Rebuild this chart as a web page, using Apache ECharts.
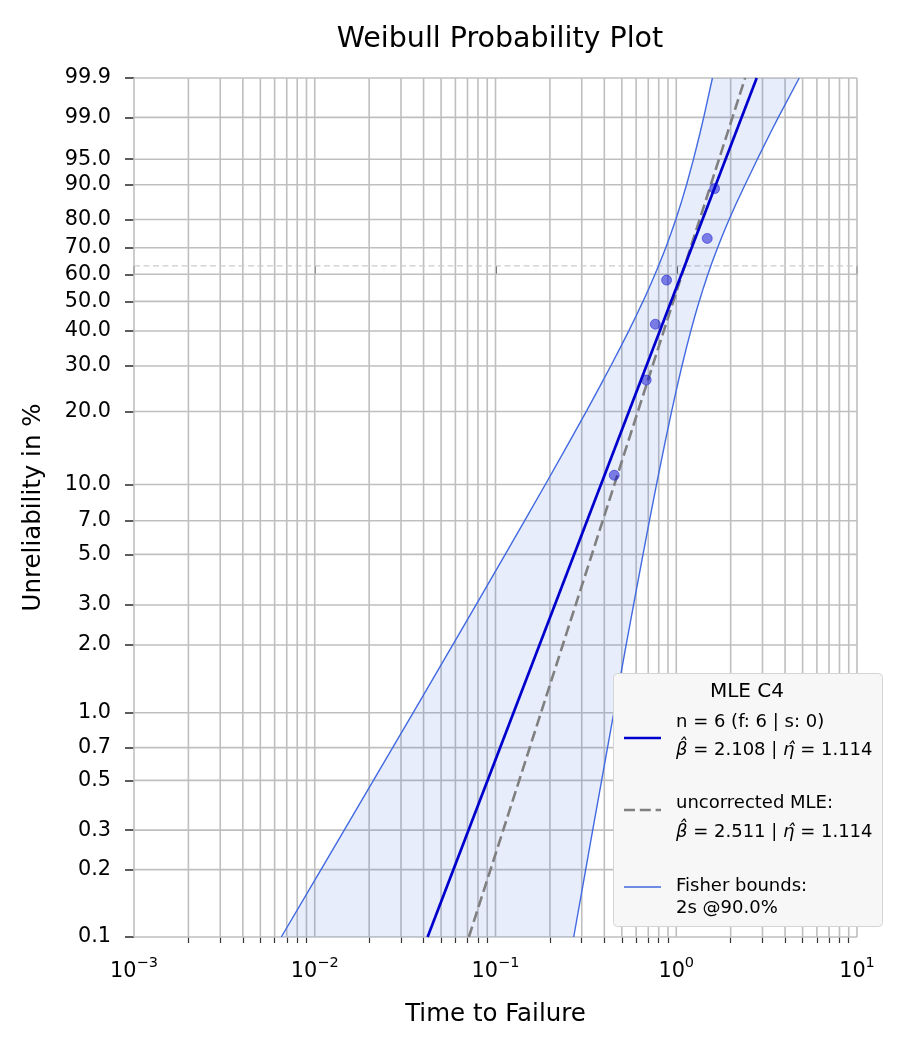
<!DOCTYPE html>
<html>
<head>
<meta charset="utf-8">
<title>Weibull Probability Plot</title>
<script src="https://cdn.jsdelivr.net/npm/echarts@6/dist/echarts.min.js"></script>
<style>
  html, body { margin: 0; padding: 0; background: #fff; }
  #main { width: 900px; height: 1050px; }
</style>
</head>
<body>
<div id="main"></div>
<script>
// failures (time) and their median ranks (%)
var failureTimes = [0.454, 0.682, 0.766, 0.884, 1.484, 1.63];
var medianRanks = [10.94, 26.56, 42.19, 57.81, 73.44, 89.06];

// fitted lines, read at the bottom and top edge of the plot
var fitPercents = [0.1, 99.9];
var fitTimes = [0.0421, 2.787];        // MLE C4, beta 2.108
var uncorrectedTimes = [0.0712, 2.405]; // uncorrected MLE, beta 2.511

// Fisher bounds (time at given unreliability)
var boundPercents = [0.1, 0.2, 0.3, 0.5, 0.7, 1, 2, 3, 5, 7, 10, 15, 20, 25, 30, 35, 40, 45, 50,
                     55, 60, 65, 70, 75, 80, 85, 90, 95, 98, 99, 99.9];
var upperBoundTimes = [0.00653, 0.01083, 0.01456, 0.02112, 0.02698, 0.0350, 0.0580, 0.0779, 0.1132, 0.1450,
                       0.1887, 0.2553, 0.3175, 0.3767, 0.4340, 0.4902, 0.5454, 0.6002, 0.6544,
                       0.7087, 0.7630, 0.8181, 0.8746, 0.9326, 0.9942, 1.0614, 1.1401, 1.2459, 1.3530, 1.4188, 1.5857];
var lowerBoundTimes = [0.2708, 0.3155, 0.3449, 0.3866, 0.4166, 0.4513, 0.5283, 0.5801, 0.6549, 0.7108,
                       0.7778, 0.8670, 0.9421, 1.0102, 1.0750, 1.1386, 1.2029, 1.2691, 1.3393,
                       1.4147, 1.4969, 1.5883, 1.6928, 1.8143, 1.9608, 2.1465, 2.4016, 2.8100, 3.3100, 3.6700, 4.7900];

// axis ticks
var yTickPercents = [0.1, 0.2, 0.3, 0.5, 0.7, 1, 2, 3, 5, 7, 10, 20, 30, 40, 50, 60, 70, 80, 90, 95, 99, 99.9];
var xMajorTicks = [0.001, 0.01, 0.1, 1, 10];
var xMinorTicks = [0.002, 0.003, 0.004, 0.005, 0.006, 0.007, 0.008, 0.009,
                   0.02, 0.03, 0.04, 0.05, 0.06, 0.07, 0.08, 0.09,
                   0.2, 0.3, 0.4, 0.5, 0.6, 0.7, 0.8, 0.9,
                   2, 3, 4, 5, 6, 7, 8, 9];
var characteristicPercent = 63.2;

var FONT = 'DejaVu Sans';

// weibull probability scale
function weib(p) { return Math.log(-Math.log(1 - p / 100)); }
function unweib(w) { return 100 * (1 - Math.exp(-Math.exp(w))); }
function toPairs(times, percents) {
    return times.map(function (t, i) { return [t, weib(percents[i])]; });
}

var xMin = xMajorTicks[0];
var xMax = xMajorTicks[xMajorTicks.length - 1];
var yMin = weib(yTickPercents[0]);
var yMax = weib(yTickPercents[yTickPercents.length - 1]);
var yTickValues = yTickPercents.map(weib);

var myChart = echarts.init(document.getElementById('main'));

var tickStyle = { color: '#333', width: 1.6 };
var gridColor = '#bfbfbf';

var option = {
    backgroundColor: '#fff',
    animation: false,
    title: {
        text: 'Weibull Probability Plot',
        left: 495,
        textAlign: 'center',
        top: 20,
        textStyle: { fontFamily: FONT, fontSize: 28.5, fontWeight: 'normal', color: '#000' }
    },
    grid: { left: 134, right: 43, top: 78, bottom: 113 },
    xAxis: [{
        type: 'log',
        logBase: 10,
        min: xMin,
        max: xMax,
        name: 'Time to Failure',
        nameLocation: 'middle',
        nameGap: 65,
        nameTextStyle: { fontFamily: FONT, fontSize: 24.5, color: '#000' },
        axisLine: { show: false },
        splitLine: { show: false },
        axisTick: { show: true, length: 9, lineStyle: tickStyle, customValues: xMajorTicks },
        axisLabel: {
            customValues: xMajorTicks,
            margin: 19,
            formatter: function (v) {
                var e = Math.round(Math.log(v) / Math.LN10);
                return '{b|10}{s|' + (e < 0 ? '\u2212' + (-e) : e) + '}';
            },
            rich: {
                b: { fontFamily: FONT, fontSize: 20.8, color: '#000', verticalAlign: 'bottom', lineHeight: 26 },
                s: { fontFamily: FONT, fontSize: 14.5, color: '#000', verticalAlign: 'top', lineHeight: 16 }
            }
        }
    }, {
        type: 'log',
        logBase: 10,
        min: xMin,
        max: xMax,
        position: 'bottom',
        axisLine: { show: false },
        splitLine: { show: false },
        axisLabel: { show: false },
        axisTick: { show: true, length: 6, lineStyle: { color: '#333', width: 1.2 }, customValues: xMinorTicks }
    }],
    yAxis: {
        type: 'value',
        min: yMin,
        max: yMax,
        name: 'Unreliability in %',
        nameLocation: 'middle',
        nameGap: 88,
        nameTextStyle: { fontFamily: FONT, fontSize: 24.5, color: '#000' },
        axisLine: { show: false },
        splitLine: { show: false },
        axisTick: { show: true, length: 9, lineStyle: tickStyle, customValues: yTickValues },
        axisLabel: {
            customValues: yTickValues,
            margin: 23,
            fontFamily: FONT,
            fontSize: 20.8,
            color: '#000',
            formatter: function (v) { return unweib(v).toFixed(1); }
        }
    },
    series: [{
        // vertical grid
        type: 'custom',
        data: xMajorTicks.concat(xMinorTicks).map(function (v) { return [v, yMin]; }),
        silent: true,
        z: 1,
        renderItem: function (params, api) {
            var a = api.coord([api.value(0), yMax]);
            var b = api.coord([api.value(0), yMin]);
            return { type: 'line', shape: { x1: a[0], y1: a[1], x2: b[0], y2: b[1] },
                     style: { stroke: gridColor, lineWidth: 1.6 } };
        }
    }, {
        // horizontal grid
        type: 'custom',
        data: yTickValues.map(function (v) { return [1, v]; }),
        silent: true,
        z: 1,
        renderItem: function (params, api) {
            var a = api.coord([xMin, api.value(1)]);
            var b = api.coord([xMax, api.value(1)]);
            return { type: 'line', shape: { x1: a[0], y1: a[1], x2: b[0], y2: b[1] },
                     style: { stroke: gridColor, lineWidth: 1.6 } };
        }
    }, {
        // 63.2 % line
        type: 'custom',
        data: [[1, weib(characteristicPercent)]],
        silent: true,
        z: 1,
        renderItem: function (params, api) {
            var a = api.coord([xMin, api.value(1)]);
            var b = api.coord([xMax, api.value(1)]);
            return { type: 'line', shape: { x1: a[0], y1: a[1], x2: b[0], y2: b[1] },
                     style: { stroke: '#cccccc', lineWidth: 1.2, lineDash: [6, 3.5] } };
        }
    }, {
        // confidence band
        type: 'custom',
        data: [[1, 0]],
        silent: true,
        z: 2,
        renderItem: function (params, api) {
            var pts = [];
            for (var i = 0; i < boundPercents.length; i++) {
                pts.push(api.coord([upperBoundTimes[i], weib(boundPercents[i])]));
            }
            for (var j = boundPercents.length - 1; j >= 0; j--) {
                pts.push(api.coord([lowerBoundTimes[j], weib(boundPercents[j])]));
            }
            return {
                type: 'polygon',
                shape: { points: pts },
                style: { fill: 'rgba(65,105,225,0.12)' }
            };
        }
    }, {
        type: 'line',
        data: toPairs(upperBoundTimes, boundPercents),
        showSymbol: false,
        silent: true,
        z: 3,
        lineStyle: { color: '#4169E1', width: 1.4 }
    }, {
        type: 'line',
        data: toPairs(lowerBoundTimes, boundPercents),
        showSymbol: false,
        silent: true,
        z: 3,
        lineStyle: { color: '#4169E1', width: 1.4 }
    }, {
        type: 'line',
        data: toPairs(uncorrectedTimes, fitPercents),
        showSymbol: false,
        silent: true,
        z: 4,
        lineStyle: { color: '#808080', width: 2.6, type: [11, 4.8] }
    }, {
        type: 'line',
        data: toPairs(fitTimes, fitPercents),
        showSymbol: false,
        silent: true,
        z: 5,
        lineStyle: { color: '#0000CD', width: 2.7 }
    }, {
        type: 'scatter',
        data: toPairs(failureTimes, medianRanks),
        symbol: 'circle',
        symbolSize: 10,
        z: 6,
        itemStyle: { color: 'rgba(0,0,205,0.6)', borderColor: 'rgba(0,0,205,0.55)', borderWidth: 1 }
    }],
    graphic: {
        elements: [
            { type: 'rect', z: 100, shape: { x: 613.5, y: 673.5, width: 269, height: 253, r: 4 },
              style: { fill: '#f7f7f7', stroke: '#d4d4d4', lineWidth: 1 } },
            { type: 'text', z: 101, x: 747, y: 692,
              style: { text: 'MLE C4', fontFamily: FONT, fontSize: 20, fill: '#000', align: 'center', verticalAlign: 'middle' } },
            { type: 'line', z: 101, shape: { x1: 624, y1: 738, x2: 661, y2: 738 },
              style: { stroke: '#0000CD', lineWidth: 2.7 } },
            { type: 'text', z: 101, x: 676, y: 722,
              style: { text: 'n = 6 (f: 6 | s: 0)', fontFamily: FONT, fontSize: 18, fill: '#000', verticalAlign: 'middle' } },
            { type: 'text', z: 101, x: 676, y: 750,
              style: {
                  text: '{m|\u03B2\u0302}{n| = 2.108 | }{m|\u03B7\u0302}{n| = 1.114}',
                  verticalAlign: 'middle',
                  rich: {
                      m: { fontFamily: FONT, fontSize: 18, fontStyle: 'italic', fill: '#000' },
                      n: { fontFamily: FONT, fontSize: 18, fill: '#000' }
                  }
              } },
            { type: 'line', z: 101, shape: { x1: 624, y1: 810, x2: 661, y2: 810 },
              style: { stroke: '#808080', lineWidth: 2.6, lineDash: [11, 4.8] } },
            { type: 'text', z: 101, x: 676, y: 803,
              style: { text: 'uncorrected MLE:', fontFamily: FONT, fontSize: 18, fill: '#000', verticalAlign: 'middle' } },
            { type: 'text', z: 101, x: 676, y: 832,
              style: {
                  text: '{m|\u03B2\u0302}{n| = 2.511 | }{m|\u03B7\u0302}{n| = 1.114}',
                  verticalAlign: 'middle',
                  rich: {
                      m: { fontFamily: FONT, fontSize: 18, fontStyle: 'italic', fill: '#000' },
                      n: { fontFamily: FONT, fontSize: 18, fill: '#000' }
                  }
              } },
            { type: 'line', z: 101, shape: { x1: 624, y1: 887, x2: 661, y2: 887 },
              style: { stroke: '#4169E1', lineWidth: 1.4 } },
            { type: 'text', z: 101, x: 676, y: 886,
              style: { text: 'Fisher bounds:', fontFamily: FONT, fontSize: 18, fill: '#000', verticalAlign: 'middle' } },
            { type: 'text', z: 101, x: 676, y: 908,
              style: { text: '2s @90.0%', fontFamily: FONT, fontSize: 18, fill: '#000', verticalAlign: 'middle' } }
        ]
    }
};

myChart.setOption(option);
</script>
</body>
</html>
